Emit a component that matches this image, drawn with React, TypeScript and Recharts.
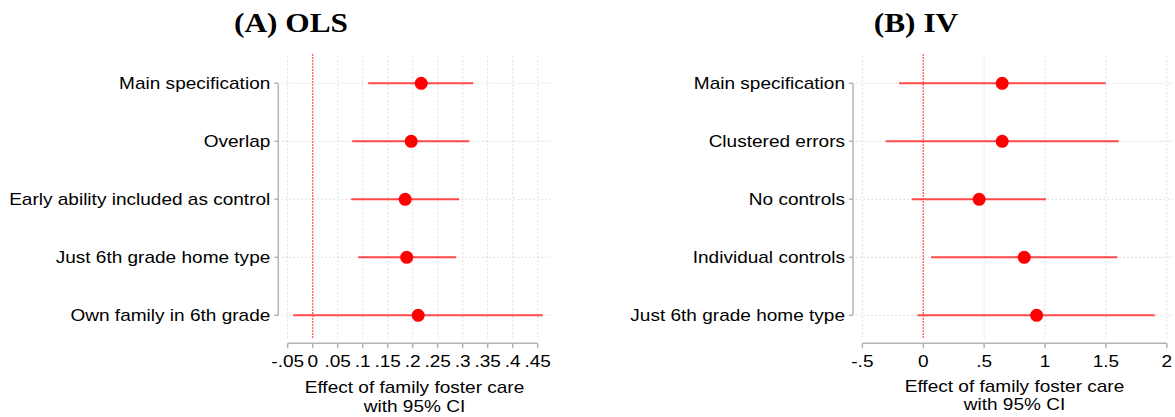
import React from "react";
import { ScatterChart, Scatter, XAxis, YAxis, ErrorBar, ReferenceLine } from "recharts";

// ---------- data ----------
const labelsA = [
  "Main specification",
  "Overlap",
  "Early ability included as control",
  "Just 6th grade home type",
  "Own family in 6th grade",
];
const estA = [0.217, 0.197, 0.185, 0.188, 0.211];
const loA = [0.111, 0.079, 0.077, 0.091, -0.039];
const hiA = [0.321, 0.313, 0.293, 0.287, 0.46];
const ticksA = [-0.05, 0, 0.05, 0.1, 0.15, 0.2, 0.25, 0.3, 0.35, 0.4, 0.45];
const tickLabelsA = ["-.05", "0", ".05", ".1", ".15", ".2", ".25", ".3", ".35", ".4", ".45"];

const labelsB = [
  "Main specification",
  "Clustered errors",
  "No controls",
  "Individual controls",
  "Just 6th grade home type",
];
const estB = [0.648, 0.648, 0.459, 0.829, 0.931];
const loB = [-0.199, -0.308, -0.095, 0.064, -0.048];
const hiB = [1.498, 1.605, 1.007, 1.594, 1.901];
const ticksB = [-0.5, 0, 0.5, 1, 1.5, 2];
const tickLabelsB = ["-.5", "0", ".5", "1", "1.5", "2"];

const rows = [1, 2, 3, 4, 5];
const xTitleLines = ["Effect of family foster care", "with 95% CI"];

// ---------- styles ----------
const SANS = "'Liberation Sans', Arial, Helvetica, sans-serif";
const SERIF = "'Liberation Serif', 'Times New Roman', serif";
const SX = 1.12; // horizontal stretch of the original graphic
const AXIS = "#b4b4b4";
const GRID = "#d4d4d4";
const FS = 17;

const yDomain: [number, number] = [0.512, 5.483];
const gridTop = 0.54;
const gridBottom = 5.39;
const zeroTop = 0.495;

function buildData(est: number[], lo: number[], hi: number[]) {
  return est.map((e, i) => ({ row: rows[i], est: e, err: [e - lo[i], hi[i] - e] }));
}

function Dot(props: any) {
  const { cx, cy } = props;
  if (cx == null || cy == null) return null;
  return <circle cx={cx} cy={cy} r={6.5} fill="#ff0000" />;
}

type PanelProps = {
  labels: string[];
  est: number[];
  lo: number[];
  hi: number[];
  ticks: number[];
  tickLabels: string[];
  xDomain: [number, number];
  gridStart: number;
  gridEnd: number;
  width: number;
  margin: { top: number; right: number; bottom: number; left: number };
};

function Panel(p: PanelProps) {
  const data = buildData(p.est, p.lo, p.hi);
  const XTick = (t: any) => {
    const i = p.ticks.findIndex((v) => Math.abs(v - t.payload.value) < 1e-9);
    return (
      <g transform={`translate(${t.x},${t.y})`}>
        <text
          transform={`scale(${SX},1)`}
          textAnchor="middle"
          dy="1.1em"
          fontSize={FS}
          fontFamily={SANS}
          fill="#000"
        >
          {i >= 0 ? p.tickLabels[i] : ""}
        </text>
      </g>
    );
  };
  const YTick = (t: any) => {
    const idx = Math.round(t.payload.value) - 1;
    return (
      <g transform={`translate(${t.x},${t.y})`}>
        <text
          transform={`scale(${SX},1)`}
          textAnchor="end"
          dy="0.36em"
          fontSize={FS}
          fontFamily={SANS}
          fill="#000"
        >
          {p.labels[idx]}
        </text>
      </g>
    );
  };
  const tmin = p.ticks[0];
  const tmax = p.ticks[p.ticks.length - 1];
  const gridTicks = p.ticks.filter((v) => v !== 0);
  return (
    <ScatterChart width={p.width} height={417} margin={p.margin}>
      <XAxis
        type="number"
        dataKey="est"
        domain={p.xDomain}
        allowDataOverflow
        ticks={p.ticks}
        interval={0}
        axisLine={false}
        tickLine={{ stroke: AXIS, strokeWidth: 1.5 }}
        tickSize={5}
        tickMargin={0}
        height={30}
        tick={XTick}
      />
      <YAxis
        type="number"
        dataKey="row"
        domain={yDomain}
        allowDataOverflow
        reversed
        ticks={rows}
        interval={0}
        axisLine={false}
        tickLine={{ stroke: AXIS, strokeWidth: 1.5 }}
        tickSize={4}
        tickMargin={4}
        width={270}
        tick={YTick}
      />
      {gridTicks.map((v) => (
        <ReferenceLine
          key={"vg" + v}
          segment={[
            { x: v, y: gridTop },
            { x: v, y: gridBottom },
          ]}
          stroke={GRID}
          strokeDasharray="1.5 2.5"
          ifOverflow="visible"
        />
      ))}
      {rows.map((r) => (
        <ReferenceLine
          key={"hg" + r}
          segment={[
            { x: p.gridStart, y: r },
            { x: p.gridEnd, y: r },
          ]}
          stroke={GRID}
          strokeDasharray="1.5 2.5"
          ifOverflow="visible"
        />
      ))}
      <ReferenceLine
        key="zero"
        segment={[
          { x: 0, y: zeroTop },
          { x: 0, y: gridBottom },
        ]}
        stroke="#ff6a6a"
        strokeWidth={1.4}
        strokeDasharray="2 1"
        ifOverflow="visible"
      />
      <ReferenceLine
        key="yaxis"
        segment={[
          { x: p.xDomain[0], y: rows[0] },
          { x: p.xDomain[0], y: rows[rows.length - 1] },
        ]}
        stroke={AXIS}
        strokeWidth={1.5}
        ifOverflow="visible"
      />
      <ReferenceLine
        key="xaxis"
        segment={[
          { x: tmin, y: yDomain[1] },
          { x: tmax, y: yDomain[1] },
        ]}
        stroke={AXIS}
        strokeWidth={1.5}
        ifOverflow="visible"
      />
      <Scatter data={data} shape={Dot} isAnimationActive={false}>
        <ErrorBar
          dataKey="err"
          direction="x"
          width={0}
          stroke="#ff4848"
          strokeWidth={2}
          isAnimationActive={false}
        />
      </Scatter>
    </ScatterChart>
  );
}

function Titles() {
  const t = (x: number, y: number, s: string, key: string, serif = false) => (
    <text
      key={key}
      transform={`translate(${x},${y}) scale(${SX},1)`}
      textAnchor="middle"
      fontFamily={serif ? SERIF : SANS}
      fontWeight={serif ? "bold" : "normal"}
      fontSize={serif ? 28 : FS}
      fill="#000"
    >
      {s}
    </text>
  );
  return (
    <svg
      width={1175}
      height={417}
      style={{ position: "absolute", left: 0, top: 0, pointerEvents: "none" }}
    >
      {t(291, 32, "(A) OLS", "ta", true)}
      {t(916, 32, "(B) IV", "tb", true)}
      {xTitleLines.map((s, i) => t(414.5, 393.3 + i * 18.4, s, "xa" + i))}
      {xTitleLines.map((s, i) => t(1014.5, 391.5 + i * 18.4, s, "xb" + i))}
    </svg>
  );
}

export default function App() {
  return (
    <div
      style={{
        position: "absolute",
        left: 0,
        top: 0,
        width: 1175,
        height: 417,
        background: "#fff",
        overflow: "hidden",
      }}
    >
      <div style={{ position: "absolute", left: 0, top: 0 }}>
        <Panel
          labels={labelsA}
          est={estA}
          lo={loA}
          hi={hiA}
          ticks={ticksA}
          tickLabels={tickLabelsA}
          xDomain={[-0.0688, 0.4766]}
          gridStart={-0.062}
          gridEnd={0.476}
          width={600}
          margin={{ top: 55, right: 49, bottom: 43.7, left: 8.3 }}
        />
      </div>
      <div style={{ position: "absolute", left: 580, top: 0 }}>
        <Panel
          labels={labelsB}
          est={estB}
          lo={loB}
          hi={hiB}
          ticks={ticksB}
          tickLabels={tickLabelsB}
          xDomain={[-0.577, 2.067]}
          gridStart={-0.555}
          gridEnd={2.048}
          width={595}
          margin={{ top: 55, right: 0, bottom: 43.7, left: 3.0 }}
        />
      </div>
      <Titles />
    </div>
  );
}
